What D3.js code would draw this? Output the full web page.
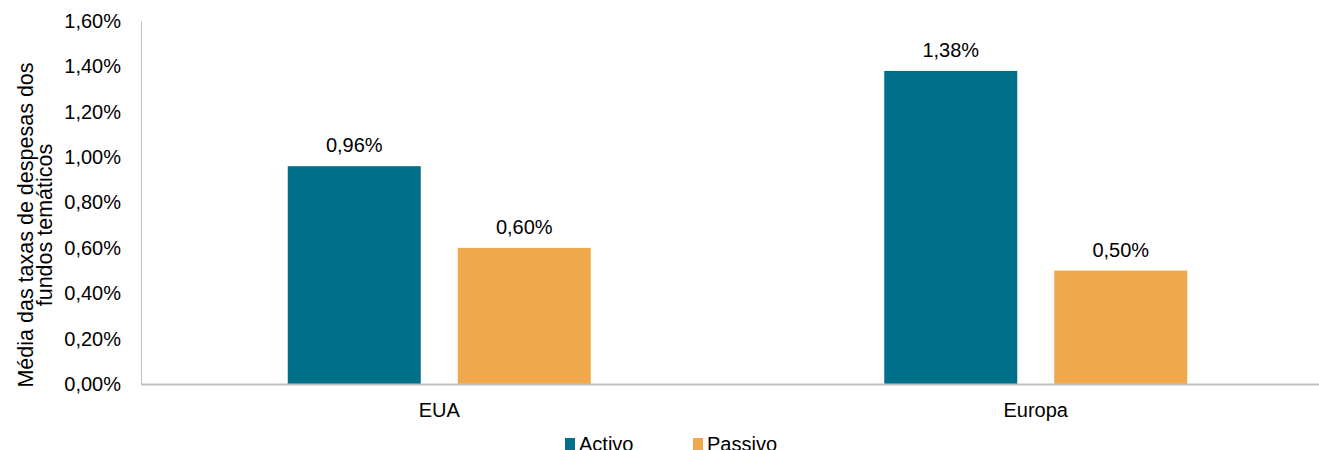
<!DOCTYPE html>
<html>
<head>
<meta charset="utf-8">
<script src="https://cdn.jsdelivr.net/npm/d3@7"></script>
<style>
  body { margin: 0; background: #fff; }
  svg text { font-family: "Liberation Sans", Arial, sans-serif; fill: #000; }
</style>
</head>
<body>
<svg id="chart" width="1319" height="450"></svg>
<script>
var categories = ['EUA', 'Europa'];
var seriesNames = ['Activo', 'Passivo'];
var activo = [0.96, 1.38];
var passivo = [0.60, 0.50];
var yTicks = [0, 0.2, 0.4, 0.6, 0.8, 1.0, 1.2, 1.4, 1.6];

var colors = { Activo: '#006F89', Passivo: '#F0A84C' };

var svg = d3.select('#chart');

var plotLeft = 141,
    plotRight = 1334,
    plotTop = 21,
    plotBottom = 384,
    groupWidth = 303;

var x = d3.scaleBand()
    .domain(categories)
    .range([plotLeft, plotRight]);

var x1 = d3.scaleBand()
    .domain(seriesNames)
    .range([0, groupWidth])
    .paddingInner(37 / 170);

var y = d3.scaleLinear()
    .domain([0, 1.6])
    .range([plotBottom, plotTop]);

var fmt = function(v) { return d3.format('.2f')(v).replace('.', ',') + '%'; };

var rows = categories.map(function(c, i) {
  return { cat: c, values: [
    { key: 'Activo', value: activo[i] },
    { key: 'Passivo', value: passivo[i] }
  ] };
});

// y axis
var yAxis = svg.append('g')
    .attr('transform', 'translate(' + plotLeft + ',0)')
    .call(d3.axisLeft(y).tickValues(yTicks).tickSize(0).tickPadding(20).tickFormat(fmt));
yAxis.select('.domain').attr('stroke', '#BFBFBF').attr('stroke-width', 1);
yAxis.selectAll('text')
    .style('font-size', '20px')
    .style('font-family', '"Liberation Sans", Arial, sans-serif')
    .attr('fill', '#000');

// bars
var groups = svg.selectAll('.grp')
    .data(rows)
  .enter().append('g')
    .attr('transform', function(d) { return 'translate(' + (x(d.cat) + (x.bandwidth() - groupWidth) / 2) + ',0)'; });

groups.selectAll('rect')
    .data(function(d) { return d.values; })
  .enter().append('rect')
    .attr('x', function(d) { return x1(d.key); })
    .attr('width', x1.bandwidth())
    .attr('y', function(d) { return y(d.value); })
    .attr('height', function(d) { return plotBottom - y(d.value); })
    .attr('fill', function(d) { return colors[d.key]; });

groups.selectAll('text.val')
    .data(function(d) { return d.values; })
  .enter().append('text')
    .attr('class', 'val')
    .attr('x', function(d) { return x1(d.key) + x1.bandwidth() / 2; })
    .attr('y', function(d) { return y(d.value) - 14; })
    .attr('text-anchor', 'middle')
    .style('font-size', '20px')
    .text(function(d) { return fmt(d.value); });

// baseline
svg.append('line')
    .attr('x1', plotLeft)
    .attr('x2', 1319)
    .attr('y1', plotBottom + 0.5)
    .attr('y2', plotBottom + 0.5)
    .attr('stroke', '#BFBFBF')
    .attr('stroke-width', 2);

// category labels
svg.selectAll('.cat')
    .data(categories)
  .enter().append('text')
    .attr('x', function(d) { return x(d) + x.bandwidth() / 2; })
    .attr('y', 417)
    .attr('text-anchor', 'middle')
    .style('font-size', '20px')
    .text(function(d) { return d; });

// y title
var yt = svg.append('text')
    .attr('transform', 'translate(33,225) rotate(-90)')
    .attr('text-anchor', 'middle')
    .style('font-size', '21.5px');
yt.append('tspan').attr('x', 0).attr('dy', 0).text('Média das taxas de despesas dos');
yt.append('tspan').attr('x', 0).attr('dy', 19).text('fundos temáticos');

// legend
var legend = svg.selectAll('.leg')
    .data(seriesNames)
  .enter().append('g')
    .attr('transform', function(d, i) { return 'translate(' + (565 + i * 128) + ',0)'; });

legend.append('rect')
    .attr('y', 438)
    .attr('width', 10)
    .attr('height', 12)
    .attr('fill', function(d) { return colors[d]; });

legend.append('text')
    .attr('x', 14)
    .attr('y', 451)
    .style('font-size', '20px')
    .text(function(d) { return d; });
</script>
</body>
</html>
